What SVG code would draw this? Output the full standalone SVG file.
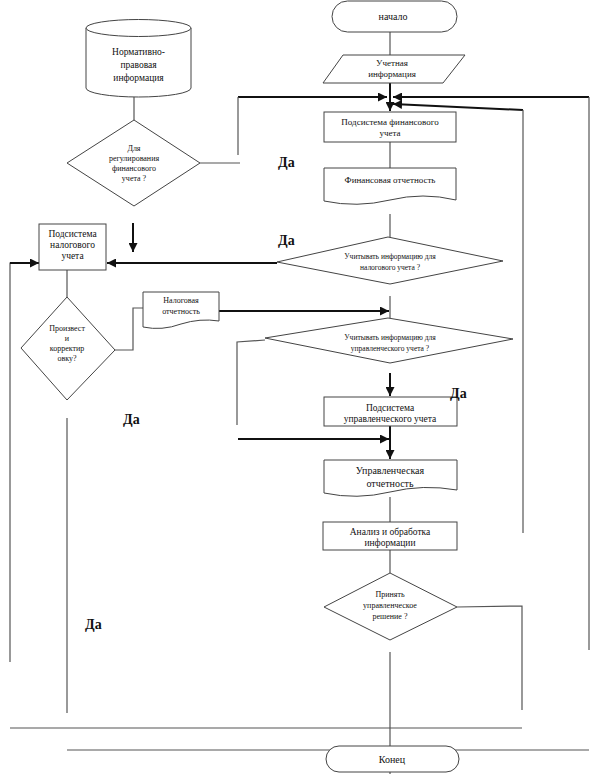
<svg xmlns="http://www.w3.org/2000/svg" width="599" height="774" viewBox="0 0 599 774">
<style>
text{font-family:"Liberation Serif","Times New Roman",serif;fill:#111;text-anchor:middle}
.s{fill:#fff;stroke:#444;stroke-width:1}
.t{fill:none;stroke:#555;stroke-width:1.2}
.k{fill:none;stroke:#111;stroke-width:2}
.da{font-size:14px;font-weight:bold;text-anchor:start}
.f7{font-size:7.5px}.f8{font-size:8px}.f9{font-size:9px}.f95{font-size:9.5px}.f10{font-size:10px}
</style>
<defs>
<marker id="ah" viewBox="0 0 10 10" refX="10" refY="5" markerWidth="4.5" markerHeight="4.5" orient="auto" markerUnits="strokeWidth"><path d="M0,0 L10,5 L0,10 Z" fill="#111"/></marker>
</defs>
<g id="connectors">
<line class="t" x1="390" y1="32" x2="390" y2="55"/>
<line class="k" x1="390" y1="83" x2="390" y2="111" marker-end="url(#ah)"/>
<line class="k" x1="238" y1="97" x2="387" y2="97" marker-end="url(#ah)"/>
<line class="k" x1="589" y1="97" x2="393" y2="97" marker-end="url(#ah)"/>
<polyline class="k" points="523,110 523,110 393,104" marker-end="url(#ah)"/>
<line class="t" x1="523" y1="110" x2="523" y2="533"/>
<line class="t" x1="589" y1="97" x2="589" y2="650"/>
<line class="t" x1="238" y1="97" x2="238" y2="155"/>
<line class="t" x1="200" y1="163" x2="240" y2="163"/>
<line class="t" x1="134" y1="97" x2="134" y2="120"/>
<line class="k" x1="133" y1="223" x2="133" y2="252" marker-end="url(#ah)"/>
<line class="t" x1="390" y1="142" x2="390" y2="168"/>
<line class="t" x1="390" y1="214" x2="390" y2="237"/>
<line class="k" x1="277" y1="263" x2="107" y2="263" marker-end="url(#ah)"/>
<polyline class="t" points="10,662 10,263 20,263"/>
<line class="k" x1="10" y1="263" x2="39" y2="263" marker-end="url(#ah)"/>
<line class="t" x1="67" y1="270" x2="67" y2="297"/>
<polyline class="t" points="115,350 133,350 133,308 143,308"/>
<line class="k" x1="219" y1="311" x2="389" y2="311" marker-end="url(#ah)"/>
<line class="t" x1="390" y1="296" x2="390" y2="318"/>
<polyline class="t" points="265,340 237,342 237,425"/>
<line class="k" x1="390" y1="373" x2="390" y2="396" marker-end="url(#ah)"/>
<line class="k" x1="238" y1="439" x2="389" y2="439" marker-end="url(#ah)"/>
<line class="k" x1="390" y1="426" x2="390" y2="459" marker-end="url(#ah)"/>
<line class="t" x1="390" y1="497" x2="390" y2="522"/>
<line class="t" x1="390" y1="550" x2="390" y2="573"/>
<polyline class="t" points="457,607 522,606 522,710"/>
<line class="t" x1="390" y1="652" x2="390" y2="774"/>
<line class="t" x1="67" y1="418" x2="67" y2="713"/>
<line class="t" x1="10" y1="728" x2="522" y2="728"/>
<line class="t" x1="67" y1="750" x2="589" y2="750"/>
</g>
<g id="start">
<rect class="s" x="332" y="1" width="125" height="31" rx="15.5"/>
<text class="f10" x="393" y="19.5">начало</text>
</g>
<g id="input">
<polygon class="s" points="343,55 465,55 443,83 323,83"/>
<text class="f9" x="392" y="66">Учетная</text>
<text class="f9" x="392" y="77">информация</text>
</g>
<g id="normative">
<path class="s" d="M86,28 V88 A52.5,9 0 0 0 191,88 V28"/>
<ellipse class="s" cx="138.5" cy="28" rx="52.5" ry="8.5"/>
<text class="f95" x="138.5" y="55">Нормативно-</text>
<text class="f95" x="138.5" y="68">правовая</text>
<text class="f95" x="138.5" y="81">информация</text>
</g>
<g id="dec-regulation">
<polygon class="s" points="134,120 200,163 134,206 67,163"/>
<text class="f8" x="134" y="150.5">Для</text>
<text class="f8" x="134" y="160.5">регулирования</text>
<text class="f8" x="134" y="170.5">финансового</text>
<text class="f8" x="134" y="180.5">учета ?</text>
</g>
<g id="fin-sub">
<rect class="s" x="324" y="112" width="132" height="30"/>
<text class="f9" x="390" y="125">Подсистема финансового</text>
<text class="f9" x="390" y="136">учета</text>
</g>
<g id="fin-report">
<path class="s" d="M324,168 H456 V200 Q423,192 390,200 Q357,208 324,201 Z"/>
<text class="f9" x="390" y="183">Финансовая отчетность</text>
</g>
<g id="dec-tax">
<polygon class="s" points="388,237 503,261 390,284 277,262"/>
<text class="f7" x="390" y="258.5">Учитывать информацию для</text>
<text class="f7" x="390" y="269.5">налогового учета ?</text>
</g>
<g id="tax-sub">
<rect class="s" x="39" y="224" width="67" height="46"/>
<text class="f95" x="72.5" y="237">Подсистема</text>
<text class="f95" x="72.5" y="248">налогового</text>
<text class="f95" x="72.5" y="259">учета</text>
</g>
<g id="dec-correct">
<polygon class="s" points="67,297 115,350 67,400 21,348"/>
<text class="f8" x="67" y="331">Произвест</text>
<text class="f8" x="67" y="341">и</text>
<text class="f8" x="67" y="351">корректир</text>
<text class="f8" x="67" y="361">овку?</text>
</g>
<g id="tax-report">
<path class="s" d="M143,292 H219 V321 Q200,318 181,324 Q162,331 143,327 Z"/>
<text class="f8" x="181" y="302.5">Налоговая</text>
<text class="f8" x="181" y="313.5">отчетность</text>
</g>
<g id="dec-mgmt">
<polygon class="s" points="388,318 513,339 390,363 265,338"/>
<text class="f7" x="390" y="339.5">Учитывать информацию для</text>
<text class="f7" x="390" y="350.5">управленческого учета ?</text>
</g>
<g id="mgmt-sub">
<rect class="s" x="324" y="397" width="133" height="29"/>
<text class="f95" x="390" y="411">Подсистема</text>
<text class="f95" x="390" y="422">управленческого учета</text>
</g>
<g id="mgmt-report">
<path class="s" d="M324,460 H457 V490 Q423,484 390,492 Q357,500 324,493 Z"/>
<text class="f10" x="390" y="474">Управленческая</text>
<text class="f10" x="390" y="487">отчетность</text>
</g>
<g id="analysis">
<rect class="s" x="323" y="522" width="134" height="28"/>
<text class="f95" x="390" y="535">Анализ и обработка</text>
<text class="f95" x="390" y="546">информации</text>
</g>
<g id="dec-decision">
<polygon class="s" points="390,573 457,607 390,640 324,607"/>
<text class="f8" x="390" y="597">Принять</text>
<text class="f8" x="390" y="608">управленческое</text>
<text class="f8" x="390" y="619">решение ?</text>
</g>
<g id="end">
<rect class="s" x="326" y="746" width="133" height="26" rx="13"/>
<text class="f10" x="392" y="763">Конец</text>
</g>
<g id="labels">
<text class="da" x="278" y="167">Да</text>
<text class="da" x="278" y="245">Да</text>
<text class="da" x="450" y="398">Да</text>
<text class="da" x="123" y="424">Да</text>
<text class="da" x="85" y="629">Да</text>
</g>
</svg>
